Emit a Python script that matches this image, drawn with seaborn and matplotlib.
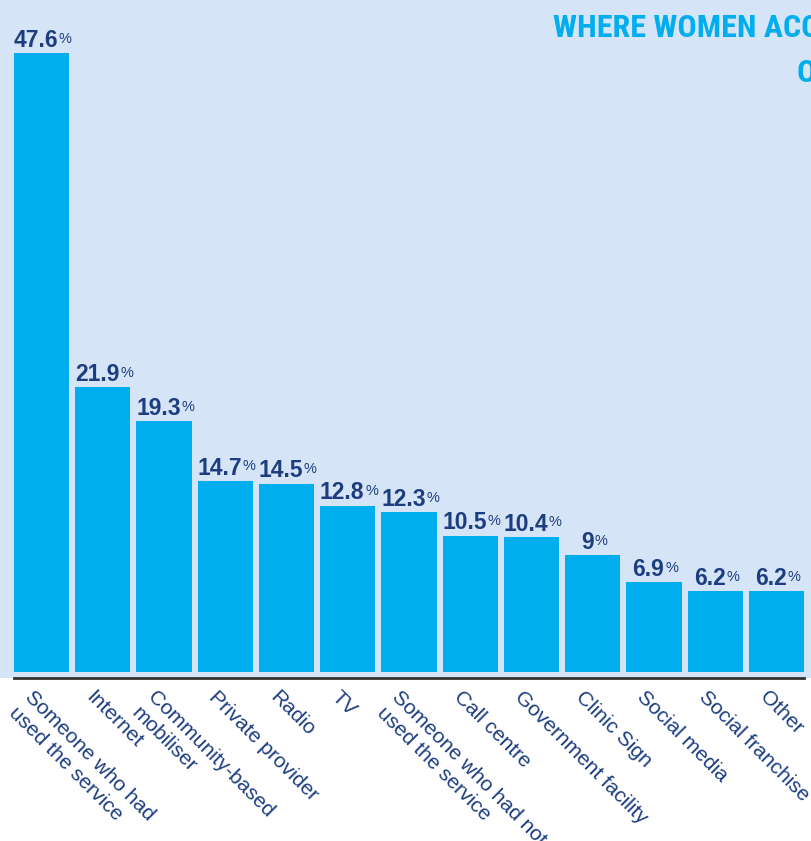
import matplotlib.pyplot as plt
import matplotlib.transforms as mtransforms
import pandas as pd
import seaborn as sns

# chart data
categories = ["Someone who had\nused the service", "Internet", "Community-based\nmobiliser",
              "Private provider", "Radio", "TV", "Someone who had not\nused the service",
              "Call centre", "Government facility", "Clinic Sign", "Social media",
              "Social franchise", "Other"]
values = [47.6, 21.9, 19.3, 14.7, 14.5, 12.8, 12.3, 10.5, 10.4, 9, 6.9, 6.2, 6.2]
value_labels = ["47.6", "21.9", "19.3", "14.7", "14.5", "12.8", "12.3",
                "10.5", "10.4", "9", "6.9", "6.2", "6.2"]
title_line1 = "WHERE WOMEN ACCESSED INFORMATION"
title_line2 = "ON CONTRACEPTION"

BAR = "#00AEEF"
BG = "#D6E4F7"
NAVY = "#1C3D80"

sns.set_theme(style="white")
plt.rcParams['font.family'] = ['Liberation Sans', 'DejaVu Sans']

df = pd.DataFrame({"source": categories, "pct": values})

fig = plt.figure(figsize=(8.11, 8.41), dpi=100, facecolor="white")
ax = fig.add_axes([0, 1 - 678 / 841, 1, 678 / 841])
ax.set_facecolor(BG)

sns.barplot(data=df, x="source", y="pct", color=BAR, saturation=1,
            width=0.9, errorbar=None, linewidth=0, ax=ax)

# px per unit ~13, bars start 6px above the axis line
ax.set_xlim(-41.5 / 61.25, (811 - 41.5) / 61.25)
ax.set_ylim(-6 / 13.0, 672 / 13.0)

for s in ["top", "left", "right"]:
    ax.spines[s].set_visible(False)
ax.spines["bottom"].set_color("#333333")
ax.spines["bottom"].set_linewidth(2.0)
ax.spines["bottom"].set_bounds(-0.45, len(values) - 0.55)
ax.set_yticks([])
ax.set_xlabel("")
ax.set_ylabel("")
ax.tick_params(axis="x", length=0, pad=7, colors=NAVY, labelsize=15)

offset = mtransforms.ScaledTranslation(-0.07, 0, fig.dpi_scale_trans)
for lab in ax.get_xticklabels():
    lab.set_rotation(-45)
    lab.set_ha("left")
    lab.set_va("top")
    lab.set_rotation_mode("anchor")
    lab.set_linespacing(1.2)
    lab.set_transform(lab.get_transform() + offset)

# value labels with a small % sign
for i, (v, txt) in enumerate(zip(values, value_labels)):
    t = ax.annotate(txt, xy=(i, v), xytext=(-4, 4.5), textcoords="offset points",
                    ha="center", va="baseline", fontsize=16.5, fontweight="bold",
                    color=NAVY)
    ax.annotate("%", xy=(1, 1), xycoords=t, xytext=(0.5, -2), textcoords="offset points",
                ha="left", va="top", fontsize=10.5, color=NAVY)

title_font = ["Roboto Condensed", "Liberation Sans Narrow", "Liberation Sans"]
fig.text(553 / 811, 1 - 37 / 841, title_line1, ha="left", va="baseline",
         fontsize=23, fontweight="bold", color=BAR, family=title_font)
fig.text(797 / 811, 1 - 82 / 841, title_line2, ha="left", va="baseline",
         fontsize=23, fontweight="bold", color=BAR, family=title_font)

fig.savefig("out.png", dpi=100, facecolor="white")
